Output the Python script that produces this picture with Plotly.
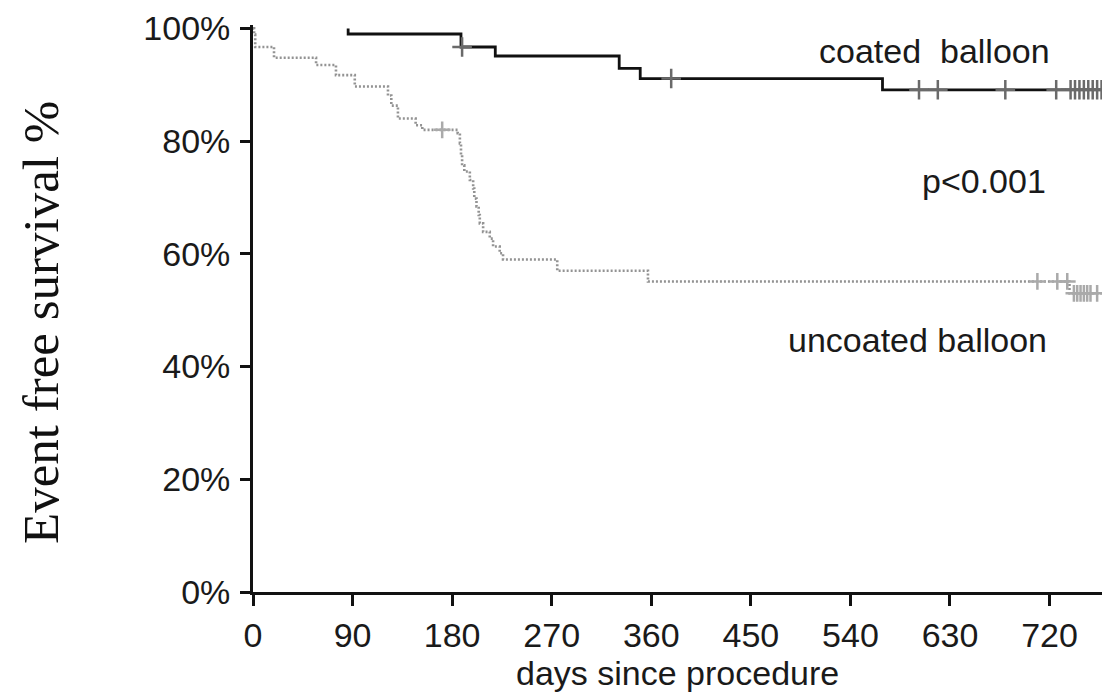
import plotly.graph_objects as go
import bisect

# ---------------- data ----------------
x_ticks = [0, 90, 180, 270, 360, 450, 540, 630, 720]
y_ticks = [0, 20, 40, 60, 80, 100]
y_tick_text = ["0%", "20%", "40%", "60%", "80%", "100%"]

# coated balloon: first day plotted, event days and survival (%) after each event
coated_start_day = 86
coated_event_days = [86, 188, 219, 331, 350, 569]
coated_survival = [99.0, 96.7, 95.1, 92.9, 91.1, 89.1]
coated_censor_days = [189, 378, 602, 619, 680, 726, 739, 743, 747, 751, 755, 759, 763, 767]

# uncoated balloon
uncoated_start_day = 0
uncoated_event_days = [1, 2, 19, 57, 75, 92, 122, 125, 131, 147, 153, 185, 187, 188,
                       189, 191, 196, 199, 200, 202, 204, 205, 208, 214, 217, 223,
                       226, 275, 357, 738]
uncoated_survival = [98.9, 96.7, 94.8, 93.5, 91.7, 89.7, 88.1, 86.3, 84.0, 82.8, 82.0,
                     81.4, 79.6, 77.5, 75.7, 74.6, 73.1, 71.6, 69.8, 68.4, 66.9, 65.4,
                     63.9, 62.7, 61.3, 60.1, 59.0, 57.0, 55.1, 53.0]
uncoated_censor_days = [171, 709, 727, 736, 742, 745, 748, 751, 754, 757, 763]

follow_up_end = 768
x_max = 767.4
y_max = 100.6


def step_xy(start, days, surv, end):
    xs = [start] + days + [end]
    ys = [100.0] + surv + [surv[-1]]
    return xs, ys


def surv_at(day, start, days, surv):
    i = bisect.bisect_right(days, day)
    return 100.0 if i == 0 else surv[i - 1]


cx, cy = step_xy(coated_start_day, coated_event_days, coated_survival, follow_up_end)
ux, uy = step_xy(uncoated_start_day, uncoated_event_days, uncoated_survival, follow_up_end)

fig = go.Figure()

fig.add_trace(go.Scatter(
    x=ux, y=uy, mode="lines", line_shape="hv",
    line=dict(color="#939393", width=2.6, dash="2px,2px"),
    showlegend=False, hoverinfo="skip"))

fig.add_trace(go.Scatter(
    x=uncoated_censor_days,
    y=[surv_at(d, uncoated_start_day, uncoated_event_days, uncoated_survival) for d in uncoated_censor_days],
    mode="markers",
    marker=dict(symbol="cross-thin", size=12, line=dict(color="#aaaaaa", width=2.5)),
    showlegend=False, hoverinfo="skip", cliponaxis=False))

fig.add_trace(go.Scatter(
    x=cx, y=cy, mode="lines", line_shape="hv",
    line=dict(color="#111111", width=2.8),
    showlegend=False, hoverinfo="skip"))

fig.add_trace(go.Scatter(
    x=coated_censor_days,
    y=[surv_at(d, coated_start_day, coated_event_days, coated_survival) for d in coated_censor_days],
    mode="markers",
    marker=dict(symbol="cross-thin", size=14, line=dict(color="#6a6a6a", width=2.5)),
    showlegend=False, hoverinfo="skip", cliponaxis=False))

tick_font = dict(family="Liberation Sans, Arial, sans-serif", size=34, color="#1a1a1a")
ann_font = dict(family="Liberation Sans, Arial, sans-serif", size=34, color="#1a1a1a")

fig.update_layout(
    width=1102, height=696,
    margin=dict(l=253, r=0, t=25, b=104),
    paper_bgcolor="white", plot_bgcolor="white",
    xaxis=dict(
        range=[0, x_max], tickvals=x_ticks, ticktext=[str(v) for v in x_ticks],
        showgrid=False, zeroline=False, showline=True, linecolor="#111111", linewidth=2.8,
        ticks="outside", ticklen=11, tickwidth=2.5, tickcolor="#111111",
        tickfont=tick_font, ticklabelstandoff=0,
    ),
    yaxis=dict(
        range=[0, y_max], tickvals=y_ticks, ticktext=y_tick_text,
        showgrid=False, zeroline=False, showline=True, linecolor="#111111", linewidth=2.8,
        ticks="outside", ticklen=10, tickwidth=2.5, tickcolor="#111111",
        tickfont=tick_font, ticklabelstandoff=3,
    ),
    annotations=[
        dict(text="coated\u00a0 balloon", x=(935 - 253.5) / 1.1067, y=(592 - 51) / 5.637,
             xref="x", yref="y", showarrow=False, font=ann_font,
             xanchor="center", yanchor="middle"),
        dict(text="p&lt;0.001", x=(985 - 253.5) / 1.1067, y=(592 - 181) / 5.637,
             xref="x", yref="y", showarrow=False, font=ann_font,
             xanchor="center", yanchor="middle"),
        dict(text="uncoated balloon", x=(918 - 253.5) / 1.1067, y=(592 - 340) / 5.637,
             xref="x", yref="y", showarrow=False, font=ann_font,
             xanchor="center", yanchor="middle"),
        dict(text="days since procedure", x=(677 - 253) / 849, y=(592 - 673) / 567,
             xref="paper", yref="paper", showarrow=False,
             font=dict(family="Liberation Sans, Arial, sans-serif", size=34, color="#1a1a1a"),
             xanchor="center", yanchor="middle"),
        dict(text="Event free survival %", x=(41 - 253) / 849, y=(592 - 323) / 567,
             xref="paper", yref="paper", showarrow=False, textangle=-90,
             font=dict(family="Liberation Serif, Times New Roman, serif", size=51, color="#111111"),
             xanchor="center", yanchor="middle"),
    ],
)

fig.write_html("out.html")
